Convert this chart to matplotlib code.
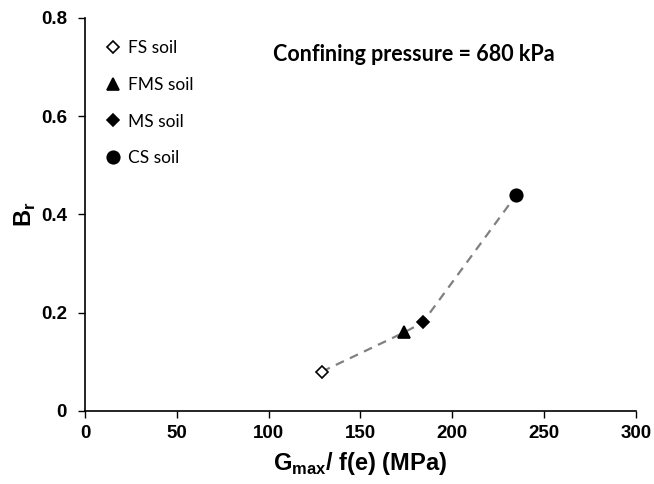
import matplotlib
matplotlib.use("Agg")
import matplotlib.pyplot as plt

plt.rcParams["mathtext.fontset"] = "custom"
plt.rcParams["mathtext.bf"] = "Liberation Sans:bold"
plt.rcParams["mathtext.rm"] = "Liberation Sans:bold"

# data
soils = ["FS soil", "FMS soil", "MS soil", "CS soil"]
gmax_fe = [129, 174, 184, 235]
br = [0.08, 0.16, 0.18, 0.44]
markers = ["D", "^", "D", "o"]
facecolors = ["white", "black", "black", "black"]
sizes = [6, 8, 6.5, 9]

fig = plt.figure(figsize=(6.54, 4.84), dpi=100)
ax = fig.add_axes([0.13, 0.151, 0.842, 0.812])

# dashed trend line
ax.plot(gmax_fe, br, linestyle=(0, (4, 3)), color="#808080", linewidth=1.6, zorder=1)

for name, x, y, m, fc, s in zip(soils, gmax_fe, br, markers, facecolors, sizes):
    ax.plot([x], [y], linestyle="none", marker=m, markersize=s,
            markerfacecolor=fc, markeredgecolor="black", markeredgewidth=1.2,
            label=name, zorder=3)

ax.set_xlim(0, 300)
ax.set_ylim(0, 0.8)
ax.set_xticks([0, 50, 100, 150, 200, 250, 300])
ax.set_yticks([0, 0.2, 0.4, 0.6, 0.8])
ax.set_yticklabels(["0", "0.2", "0.4", "0.6", "0.8"])

for side in ["top", "right"]:
    ax.spines[side].set_visible(False)
for side in ["left", "bottom"]:
    ax.spines[side].set_linewidth(1.2)
ax.tick_params(direction="out", length=5, width=1, labelsize=13.5)
ax.tick_params(axis="y", pad=8)
ax.tick_params(axis="x", pad=5)
for lab in ax.get_xticklabels() + ax.get_yticklabels():
    lab.set_fontfamily("Liberation Sans")
    lab.set_fontweight("bold")

ax.set_xlabel("G$_{\\mathbf{max}}$/ f(e) (MPa)", fontsize=17, fontweight="bold",
              fontfamily="Liberation Sans", labelpad=6)
ax.set_ylabel("B$_{\\mathbf{r}}$", fontsize=17, fontweight="bold",
              fontfamily="Liberation Sans", labelpad=2)

ax.text(179, 0.725, "Confining pressure = 680 kPa", fontsize=15.5, fontweight="bold",
        fontfamily="Lato", ha="center", va="center")

leg = ax.legend(loc="upper left", bbox_to_anchor=(0.02, 0.975), frameon=False,
                labelspacing=1.2, handlelength=0.6, handletextpad=0.55,
                prop={"family": "Lato", "size": 12.5}, borderaxespad=0.3)

fig.savefig("out.png", dpi=100)
